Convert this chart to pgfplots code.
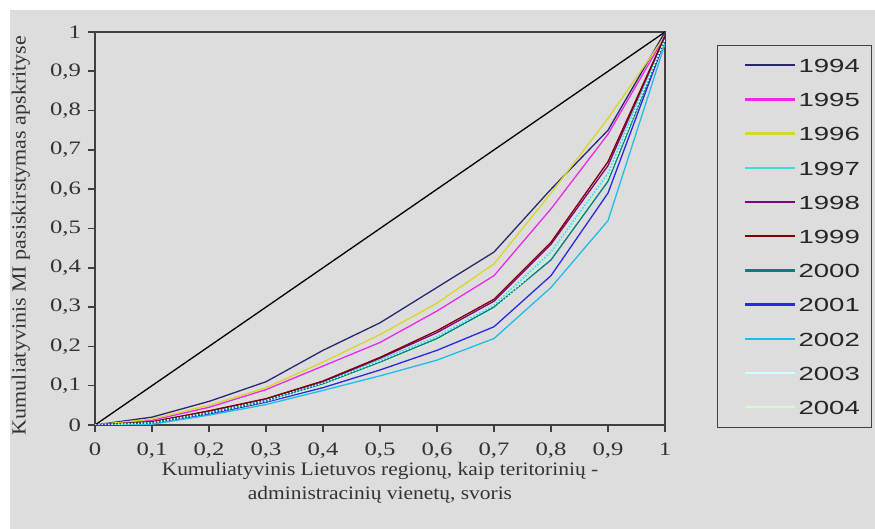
\documentclass[border=0pt]{standalone}
\usepackage{fontspec}
\usepackage{pgfplots}
\pgfplotsset{compat=1.18}
\setmainfont{Liberation Serif}
\newfontfamily\tickfont[FakeStretch=1.3]{Liberation Serif}
\newfontfamily\labfont[FakeStretch=1.13]{Liberation Serif}
\newfontfamily\ylabfont[FakeStretch=1.1]{Liberation Serif}
\newfontfamily\legfont[FakeStretch=1.45]{Liberation Sans}
\definecolor{bg}{RGB}{221,221,221}
\definecolor{c94}{RGB}{40,40,110}
\definecolor{c95}{RGB}{235,40,235}
\definecolor{c96}{RGB}{215,215,40}
\definecolor{c97}{RGB}{60,220,220}
\definecolor{c98}{RGB}{128,0,128}
\definecolor{c99}{RGB}{128,0,0}
\definecolor{c00}{RGB}{0,128,128}
\definecolor{c01}{RGB}{40,40,230}
\definecolor{c02}{RGB}{30,190,230}
\definecolor{c03}{RGB}{204,255,255}
\definecolor{c04}{RGB}{204,255,204}
\begin{document}
\begin{tikzpicture}
\fill[bg] (5pt,0pt) rectangle (437.5pt,259.5pt);
\path (0pt,0pt) rectangle (437.5pt,264.5pt);
\begin{axis}[
  at={(47.5pt,52pt)}, anchor=south west,
  scale only axis, width=285pt, height=196.5pt,
  xmin=0, xmax=1, ymin=0, ymax=1,
  xtick={0,0.1,...,1.01}, ytick={0,0.1,...,1.01},
  xtick pos=bottom, ytick pos=left,
  tick align=outside, major tick length=3.5pt,
  tick style={black!75, line width=0.8pt},
  axis line style={black!75, line width=1pt},
  axis background/.style={fill=bg},
  /pgf/number format/assume math mode=true,
  /pgf/number format/use comma,
  /pgf/number format/fixed,
  ticklabel style={font=\tickfont\fontsize{9.5}{11}\selectfont, text=black!80},
  xticklabel style={yshift=-2pt},
  xlabel={Kumuliatyvinis Lietuvos regionų, kaip teritorinių -\\administracinių vienetų, svoris},
  xlabel style={align=center, at={(axis description cs:0.5,-0.147)}, anchor=center, font=\labfont\fontsize{9.5}{12}\selectfont, text=black!80},
  ylabel={Kumuliatyvinis MI pasiskirstymas apskrityse},
  ylabel style={at={(axis description cs:-0.13,0.482)}, anchor=center, font=\ylabfont\fontsize{10}{12}\selectfont, text=black!80},
  no markers,
  every axis plot/.append style={line width=0.65pt},
  legend cell align=left,
  legend image code/.code={\path[draw=none] (-8pt,0pt) -- (0pt,0pt); \draw[#1, line width=1.2pt, solid] (0pt,0pt) -- (25pt,0pt);},
  legend style={at={(1.0912,0.9680)}, anchor=north west, draw=black!75, fill=bg,
    font=\legfont\fontsize{9.5}{12}\selectfont, inner xsep=6pt, inner ysep=6.5pt,
    row sep=9.8pt, column sep=1pt, text=black!85,
    nodes={inner sep=0pt, text height=7.3pt, text depth=0pt}},
]
\addplot[black, forget plot] coordinates {(0,0) (1,1)};
\addplot[c94] coordinates {(0,0) (0.1,0.02) (0.2,0.06) (0.3,0.11) (0.4,0.19) (0.5,0.26) (0.6,0.35) (0.7,0.44) (0.8,0.60) (0.9,0.75) (1,1)};
\addlegendentry{1994}
\addplot[c95] coordinates {(0,0) (0.1,0.012) (0.2,0.045) (0.3,0.09) (0.4,0.15) (0.5,0.21) (0.6,0.29) (0.7,0.38) (0.8,0.55) (0.9,0.74) (1,0.99)};
\addlegendentry{1995}
\addplot[c96] coordinates {(0,0) (0.1,0.015) (0.2,0.05) (0.3,0.095) (0.4,0.16) (0.5,0.23) (0.6,0.31) (0.7,0.41) (0.8,0.59) (0.9,0.78) (1,0.99)};
\addlegendentry{1996}
\addplot[c97] coordinates {(0,0) (0.1,0.007) (0.2,0.033) (0.3,0.064) (0.4,0.108) (0.5,0.165) (0.6,0.225) (0.7,0.305) (0.8,0.44) (0.9,0.64) (1,0.99)};
\addlegendentry{1997}
\addplot[c98] coordinates {(0,0) (0.1,0.008) (0.2,0.035) (0.3,0.066) (0.4,0.11) (0.5,0.17) (0.6,0.235) (0.7,0.315) (0.8,0.46) (0.9,0.66) (1,0.99)};
\addlegendentry{1998}
\addplot[c99] coordinates {(0,0) (0.1,0.008) (0.2,0.036) (0.3,0.067) (0.4,0.112) (0.5,0.172) (0.6,0.24) (0.7,0.32) (0.8,0.465) (0.9,0.67) (1,0.99)};
\addlegendentry{1999}
\addplot[c00] coordinates {(0,0) (0.1,0.006) (0.2,0.031) (0.3,0.062) (0.4,0.105) (0.5,0.16) (0.6,0.22) (0.7,0.30) (0.8,0.42) (0.9,0.62) (1,0.98)};
\addlegendentry{2000}
\addplot[c01] coordinates {(0,0) (0.1,0.004) (0.2,0.028) (0.3,0.058) (0.4,0.095) (0.5,0.14) (0.6,0.19) (0.7,0.25) (0.8,0.38) (0.9,0.59) (1,0.98)};
\addlegendentry{2001}
\addplot[c02] coordinates {(0.03,0) (0.1,0.002) (0.2,0.025) (0.3,0.052) (0.4,0.088) (0.5,0.125) (0.6,0.165) (0.7,0.22) (0.8,0.35) (0.9,0.52) (1,0.97)};
\addlegendentry{2002}
\addplot[c03, densely dotted] coordinates {(0,0) (0.1,0.006) (0.2,0.032) (0.3,0.063) (0.4,0.107) (0.5,0.163) (0.6,0.225) (0.7,0.305) (0.8,0.44) (0.9,0.64) (1,0.98)};
\addlegendentry{2003}
\addplot[c04, densely dotted] coordinates {(0,0) (0.1,0.005) (0.2,0.03) (0.3,0.06) (0.4,0.10) (0.5,0.155) (0.6,0.215) (0.7,0.295) (0.8,0.43) (0.9,0.63) (1,0.98)};
\addlegendentry{2004}
\end{axis}
\end{tikzpicture}
\end{document}
